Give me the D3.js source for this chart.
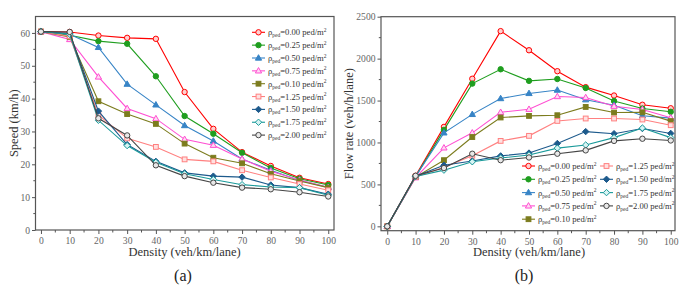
<!DOCTYPE html>
<html><head><meta charset="utf-8">
<script src="https://cdn.jsdelivr.net/npm/d3@7"></script>
<style>body{margin:0;background:#fff}svg{display:block;font-family:'Liberation Serif',serif}</style>
</head><body>
<svg id="chart" width="689" height="288"></svg>
<script>
// ---------- DATA ----------
const density = [0,10,20,30,40,50,60,70,80,90,100];
const pedLabels = ["0.00","0.25","0.50","0.75","0.10","1.25","1.50","1.75","2.00"];

// Speed (km/h), panel (a)
const speed000 = [60.4,60.3,59.2,58.5,58.2,42.0,30.8,23.7,19.5,15.9,14.0];
const speed025 = [60.4,59.3,57.5,56.7,46.8,34.7,29.3,23.5,18.9,15.6,13.7];
const speed050 = [60.4,59.6,55.6,44.4,38.1,31.8,27.1,21.6,18.2,15.1,13.0];
const speed075 = [60.4,58.0,46.6,37.0,33.9,27.6,25.8,21.6,17.9,15.2,12.9];
const speed010 = [60.4,58.8,39.2,35.3,32.3,26.3,22.0,20.3,17.1,14.9,12.9];
const speed125 = [60.4,59.0,35.0,27.9,25.3,21.5,20.9,18.2,16.0,14.0,12.1];
const speed150 = [60.4,59.8,36.2,26.0,20.9,17.4,16.4,16.1,13.7,12.9,10.9];
const speed175 = [60.4,59.6,33.4,25.7,20.6,17.1,15.4,13.8,13.1,12.9,10.6];
const speed200 = [60.4,60.3,34.0,28.8,19.7,16.4,14.4,12.9,12.4,11.5,10.2];

// Flow rate (veh/h/lane), panel (b)
const flow000 = [0,603,1186,1760,2328,2100,1850,1660,1560,1450,1408];
const flow025 = [0,593,1150,1702,1873,1735,1757,1650,1495,1405,1366];
const flow050 = [0,596,1115,1335,1524,1585,1625,1510,1445,1318,1290];
const flow075 = [0,580,936,1115,1360,1396,1548,1536,1432,1393,1294];
const flow010 = [0,588,789,1065,1298,1317,1325,1424,1357,1360,1255];
const flow125 = [0,590,704,842,1019,1079,1257,1286,1286,1274,1206];
const flow150 = [0,598,728,779,840,874,988,1130,1105,1167,1108];
const flow175 = [0,596,670,770,815,851,933,970,1058,1172,1058];
const flow200 = [0,603,695,866,789,821,866,906,1019,1045,1024];

const speedTicks = [0,10,20,30,40,50,60];
const flowTicks = [0,500,1000,1500,2000,2500];
const densityTicks = [0,10,20,30,40,50,60,70,80,90,100];

// ---------- STYLE ----------
const colors = ["#ff0000","#1f9e1f","#3784c6","#ff4fd2","#7c7c1e","#ff8080","#1d5a8c","#1a9a9a","#454545"];
const markers = ["circle","circleFill","triangle","triangleOpen","square","squareOpen","diamond","diamondOpen","circleOpen"];

const speedSeries = [speed000,speed025,speed050,speed075,speed010,speed125,speed150,speed175,speed200];
const flowSeries = [flow000,flow025,flow050,flow075,flow010,flow125,flow150,flow175,flow200];

const svg = d3.select("#chart");
const FONT = "Liberation Serif, serif";
const axisColor = "#555";
const tickText = "#666";

function drawMarker(g, type, color, cx, cy) {
  const r = 2.7;
  if (type.startsWith("circle")) {
    const c = g.append("circle").attr("cx", cx).attr("cy", cy).attr("r", r)
      .attr("stroke", color).attr("stroke-width", 1);
    if (type === "circleFill") c.attr("fill", color);
    else if (type === "circle") { c.attr("fill", "#ffd0d0"); }
    else c.attr("fill", "#e8e8e8");
  } else if (type.startsWith("triangle")) {
    const s = 3.3;
    const p = `M${cx},${cy - s}L${cx + s * 0.95},${cy + s * 0.65}L${cx - s * 0.95},${cy + s * 0.65}Z`;
    g.append("path").attr("d", p).attr("stroke", color).attr("stroke-width", 1)
      .attr("fill", type === "triangle" ? color : "#ffd8f2");
  } else if (type.startsWith("square")) {
    const s = 2.4;
    g.append("rect").attr("x", cx - s).attr("y", cy - s).attr("width", 2 * s).attr("height", 2 * s)
      .attr("stroke", color).attr("stroke-width", 1)
      .attr("fill", type === "square" ? color : "#ffe0e0");
  } else if (type.startsWith("diamond")) {
    const s = 3.2;
    const p = `M${cx},${cy - s}L${cx + s},${cy}L${cx},${cy + s}L${cx - s},${cy}Z`;
    g.append("path").attr("d", p).attr("stroke", color).attr("stroke-width", 1)
      .attr("fill", type === "diamond" ? color : "#d8f4f4");
  }
}

function legendLabel(g, x, y, lab) {
  const t = g.append("text").attr("x", x).attr("y", y).attr("dy", "0.35em")
    .attr("font-family", FONT).attr("font-size", 8.6).attr("fill", "#333");
  t.append("tspan").text("ρ");
  t.append("tspan").attr("font-size", 5.5).attr("dy", 2).text("ped");
  t.append("tspan").attr("dy", -2).text("=" + lab + " ped/m");
  t.append("tspan").attr("font-size", 5.5).attr("dy", -3.5).text("2");
}

function panel(opt) {
  const g = svg.append("g");
  const x = d3.scaleLinear().domain(opt.xDomain).range([opt.left, opt.right]);
  const y = d3.scaleLinear().domain(opt.yDomain).range([opt.bottom, opt.top]);

  // frame
  g.append("rect").attr("x", opt.left).attr("y", opt.top)
    .attr("width", opt.right - opt.left).attr("height", opt.bottom - opt.top)
    .attr("fill", "none").attr("stroke", axisColor).attr("stroke-width", 1.2);

  // x axis
  const xAxis = d3.axisBottom(x).tickValues(densityTicks).tickSize(4).tickPadding(3).tickFormat(d3.format("d"));
  const xg = g.append("g").attr("transform", `translate(0,${opt.bottom})`).call(xAxis);
  const xMinor = d3.range(5, 100, 10);
  xg.selectAll(".minor").data(xMinor).enter().append("line").attr("class", "minor")
    .attr("x1", d => x(d)).attr("x2", d => x(d)).attr("y1", 0).attr("y2", 2.5).attr("stroke", axisColor);

  // y axis
  const yAxis = d3.axisLeft(y).tickValues(opt.yTicks).tickSize(3.5).tickPadding(2).tickFormat(d3.format("d"));
  const yg = g.append("g").attr("transform", `translate(${opt.left},0)`).call(yAxis);
  yg.selectAll(".minor").data(opt.yMinor).enter().append("line").attr("class", "minor")
    .attr("y1", d => y(d)).attr("y2", d => y(d)).attr("x1", 0).attr("x2", -2.2).attr("stroke", axisColor);

  [xg, yg].forEach(a => {
    a.attr("font-family", FONT);
    a.select(".domain").remove();
    a.selectAll(".tick line").attr("stroke", axisColor);
    a.selectAll("text").attr("font-family", FONT).attr("font-size", 9.6).attr("fill", tickText);
  });

  // axis titles
  g.append("text").attr("x", (x(0) + x(100)) / 2).attr("y", 252).attr("dy", "0.35em")
    .attr("text-anchor", "middle").attr("font-family", FONT).attr("font-size", 12.5).attr("fill", "#333")
    .text("Density (veh/km/lane)");
  g.append("text").attr("transform", `translate(${opt.yTitleX},${(opt.top + opt.bottom) / 2}) rotate(-90)`)
    .attr("dy", "0.35em").attr("text-anchor", "middle").attr("font-family", FONT).attr("font-size", 12.5)
    .attr("fill", "#333").text(opt.yTitle);
  g.append("text").attr("x", opt.captionX).attr("y", 275).attr("dy", "0.35em")
    .attr("text-anchor", "middle").attr("font-family", FONT).attr("font-size", 16).attr("fill", "#222")
    .text(opt.caption);

  // series
  const line = d3.line().x((d, i) => x(density[i])).y(d => y(d));
  opt.series.forEach((vals, si) => {
    const sg = g.append("g");
    sg.append("path").attr("d", line(vals)).attr("fill", "none")
      .attr("stroke", colors[si]).attr("stroke-width", 1.1);
    vals.forEach((v, i) => drawMarker(sg, markers[si], colors[si], x(density[i]), y(v)));
  });

  // legend
  const lg = g.append("g");
  pedLabels.forEach((lab, si) => {
    const pos = opt.legendPos(si);
    lg.append("line").attr("x1", pos[0]).attr("x2", pos[0] + 13).attr("y1", pos[1]).attr("y2", pos[1])
      .attr("stroke", colors[si]).attr("stroke-width", 1.1);
    drawMarker(lg, markers[si], colors[si], pos[0] + 6.5, pos[1]);
    legendLabel(lg, pos[0] + 16, pos[1], lab);
  });
}

panel({
  left: 35.5, right: 334, top: 16.5, bottom: 230,
  xDomain: [-1.9, 102], yDomain: [0, 65],
  yTicks: speedTicks, yMinor: [5,15,25,35,45,55],
  yTitle: "Speed (km/h)", yTitleX: 14,
  caption: "(a)", captionX: 183,
  series: speedSeries,
  legendPos: si => [252, 32.3 + si * 12.85]
});

panel({
  left: 381, right: 675, top: 16.7, bottom: 230.7,
  xDomain: [-2.2, 101.5], yDomain: [-52, 2500],
  yTicks: flowTicks, yMinor: [250,750,1250,1750,2250],
  yTitle: "Flow rate (veh/h/lane)", yTitleX: 349,
  caption: "(b)", captionX: 524,
  series: flowSeries,
  legendPos: si => si < 5 ? [522, 166 + si * 13.3] : [600, 166 + (si - 5) * 13.3]
});
</script>
</body></html>
